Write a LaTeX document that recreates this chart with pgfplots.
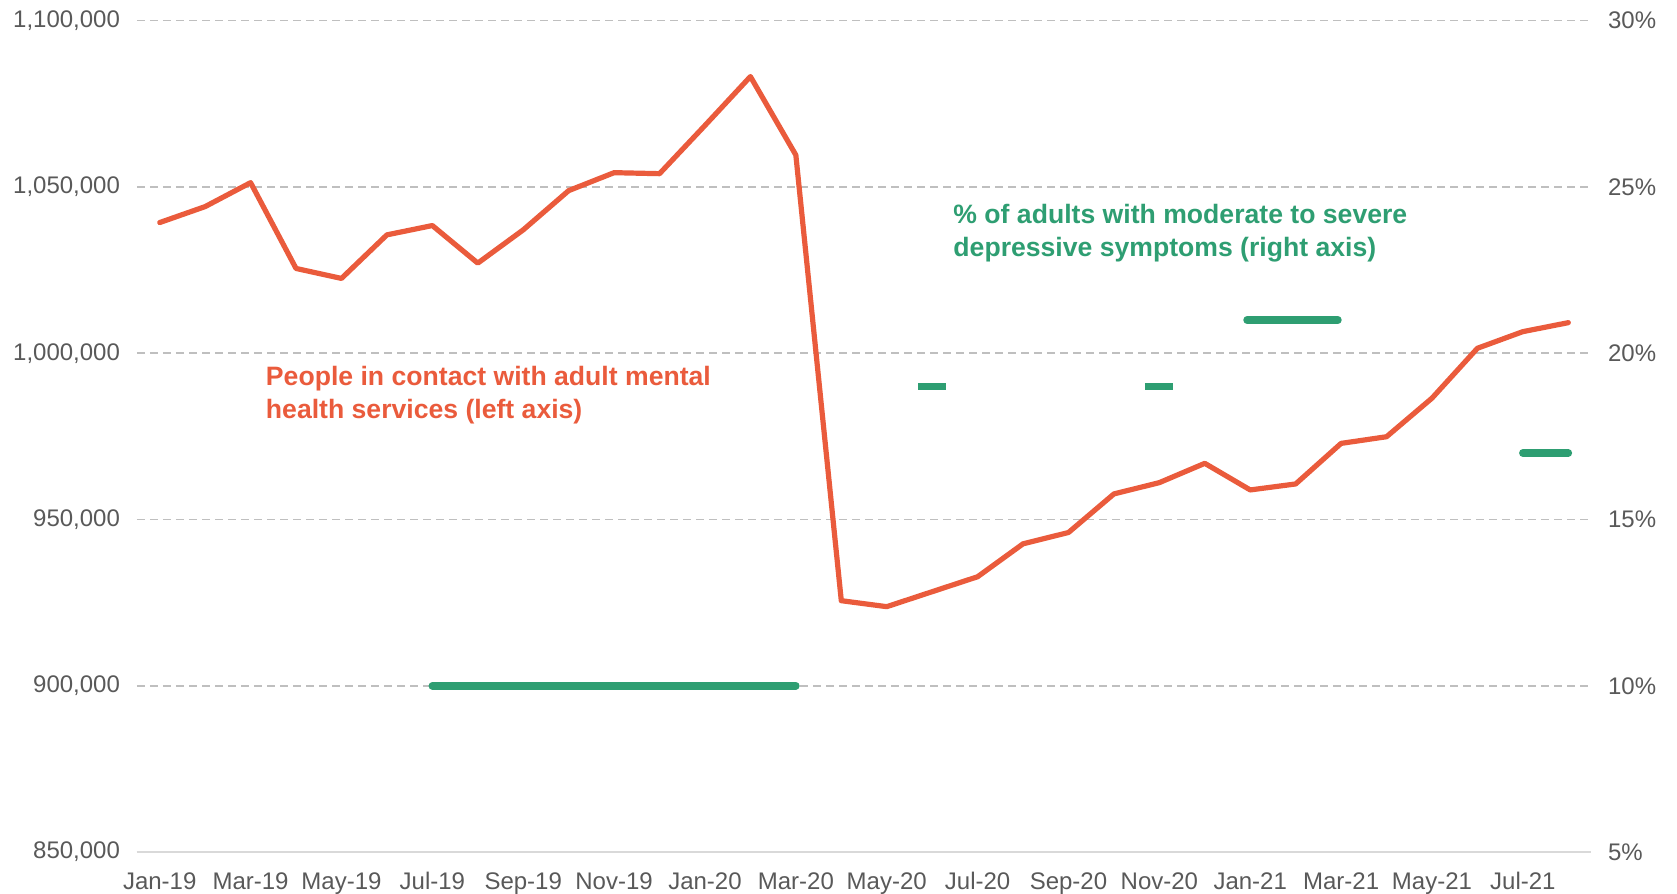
\documentclass[border=0pt]{standalone}
\usepackage{fontspec}
\setmainfont{Liberation Sans}
\usepackage{pgfplots}
\pgfplotsset{compat=1.18}
\definecolor{redl}{RGB}{234,91,60}
\definecolor{greenl}{RGB}{46,158,114}
\definecolor{gridgray}{RGB}{191,191,191}
\definecolor{axgray}{RGB}{217,217,217}
\definecolor{textgray}{RGB}{89,89,89}
\begin{document}
\begin{tikzpicture}
\begin{axis}[name=ax,
  scale only axis, width=727pt, height=415.7pt,
  xmin=-0.5, xmax=31.5, ymin=850000, ymax=1100000,
  ytick={850000,900000,950000,1000000,1050000,1100000},
  xtick={0,2,...,30},
  xticklabels={Jan-19,Mar-19,May-19,Jul-19,Sep-19,Nov-19,Jan-20,Mar-20,May-20,Jul-20,Sep-20,Nov-20,Jan-21,Mar-21,May-21,Jul-21},
  axis x line*=bottom, axis y line*=left,
  y axis line style={draw=none},
  x axis line style={draw=axgray, line width=1.2pt, -},
  major tick length=0pt,
  ymajorgrids,
  grid style={draw=gridgray, line width=0.8pt, dash pattern=on 4pt off 2.5pt},
  tick label style={font=\fontsize{12}{14}\selectfont, text=textgray},
  /pgf/number format/assume math mode=true,
  /pgf/number format/fixed,
  /pgf/number format/1000 sep={,},
  scaled y ticks=false,
  yticklabel style={xshift=-5pt},
  xticklabel style={yshift=-6.7pt},
  clip=false,
]
\addplot[redl, line width=2.6pt, line join=round, line cap=round] coordinates {
(0,1039300) (1,1044100) (2,1051300) (3,1025500) (4,1022500) (5,1035600)
(6,1038400) (7,1027100) (8,1037100) (9,1048900) (10,1054300) (11,1054000)
(12,1068500) (13,1083200) (14,1059600) (15,925600) (16,923800) (17,928300)
(18,932800) (19,942700) (20,946100) (21,957700) (22,961100) (23,966900)
(24,958900) (25,960700) (26,972900) (27,974900) (28,986500) (29,1001500)
(30,1006500) (31,1009200)
};
\node[anchor=north west, inner sep=0pt, align=left, text=redl, font=\bfseries\fontsize{13.3}{16.6}\selectfont] at (axis cs:2.33,996200) {People in contact with adult mental\\health services (left axis)};
\node[anchor=north west, inner sep=0pt, align=left, text=greenl, font=\bfseries\fontsize{13.3}{16.6}\selectfont] at (axis cs:17.46,1044900) {\% of adults with moderate to severe\\depressive symptoms (right axis)};
\end{axis}
\begin{axis}[
  scale only axis, width=727pt, height=415.7pt,
  xmin=-0.5, xmax=31.5, ymin=5, ymax=30,
  ytick={5,10,15,20,25,30},
  axis x line=none, axis y line*=right,
  y axis line style={draw=none},
  major tick length=0pt,
  tick label style={font=\fontsize{12}{14}\selectfont, text=textgray},
  /pgf/number format/assume math mode=true,
  yticklabel={\pgfmathprintnumber{\tick}\%},
  yticklabel style={xshift=5pt},
  clip=false,
]
\addplot[greenl, line width=3.8pt, line cap=round] coordinates {(6,10) (14,10)};
\addplot[greenl, line width=3.8pt, line cap=butt] coordinates {(16.69,19) (17.31,19)};
\addplot[greenl, line width=3.8pt, line cap=butt] coordinates {(21.68,19) (22.31,19)};
\addplot[greenl, line width=3.8pt, line cap=round] coordinates {(23.93,21) (25.93,21)};
\addplot[greenl, line width=3.8pt, line cap=round] coordinates {(30,17) (31,17)};
\end{axis}
\pgfresetboundingbox
\path[use as bounding box] ([xshift=-68.5pt,yshift=-20.5pt]ax.south west) rectangle ([xshift=43pt,yshift=10.35pt]ax.north east);
\end{tikzpicture}
\end{document}
